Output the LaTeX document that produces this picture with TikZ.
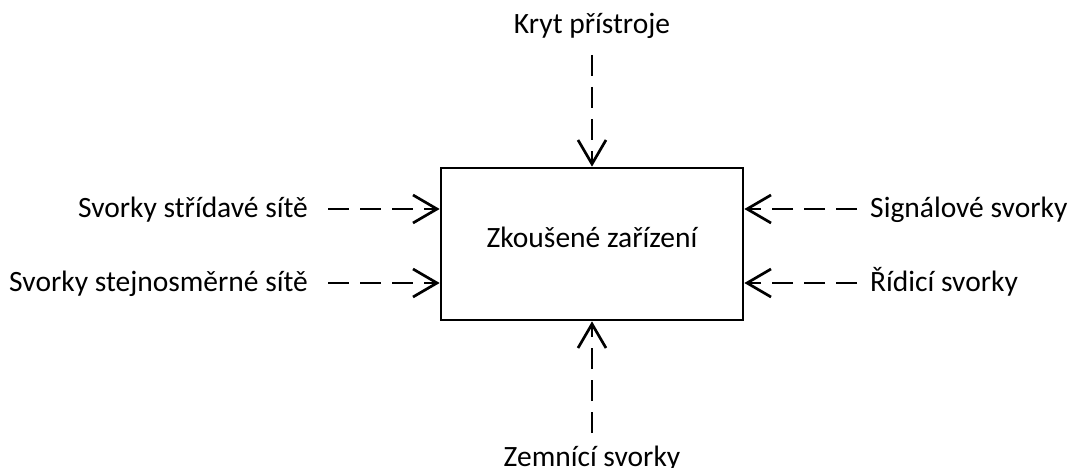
\documentclass[tikz,border=0pt]{standalone}
\usepackage{fontspec}
\setmainfont{Carlito}
\usetikzlibrary{arrows.meta}
\begin{document}
\begin{tikzpicture}[x=1pt,y=-1pt,
  lbl/.style={font=\fontsize{29.5}{35}\selectfont, inner sep=0pt},
  feed/.style={line width=2.7pt, dash pattern=on 21pt off 11pt,
    -{Straight Barb[length=24pt,width=28pt,line width=2.7pt]}},
  dut/.style={draw, line width=2.7pt, minimum width=302pt, minimum height=152pt, inner sep=0pt}]
  \useasboundingbox (0,0) rectangle (1070,468);
  % device under test
  \node[dut] (box) at (592,244) {};
  \node[lbl, anchor=base] (boxlbl) at (592,247) {Zkoušené zařízení};
  % terminal labels
  \node[lbl, anchor=base] (top) at (592,34) {Kryt přístroje};
  \node[lbl, anchor=base] (bot) at (592,466) {Zemnící svorky};
  \node[lbl, anchor=base east] (l1) at (308,217) {Svorky střídavé sítě};
  \node[lbl, anchor=base east] (l2) at (308,291) {Svorky stejnosměrné sítě};
  \node[lbl, anchor=base west] (r1) at (870,217) {Signálové svorky};
  \node[lbl, anchor=base west] (r2) at (870,291) {Řídicí svorky};
  % free ends of the connectors
  \coordinate (tstart) at (592,55);
  \coordinate (bstart) at (592,433);
  \coordinate (l1s) at (328,209);
  \coordinate (l2s) at (328,283);
  \coordinate (r1s) at (857,209);
  \coordinate (r2s) at (857,283);
  % connectors
  \draw[feed] (tstart) -- (tstart |- box.north);
  \draw[feed] (bstart) -- (bstart |- box.south);
  \draw[feed] (l1s) -- (l1s -| box.west);
  \draw[feed] (l2s) -- (l2s -| box.west);
  \draw[feed] (r1s) -- (r1s -| box.east);
  \draw[feed] (r2s) -- (r2s -| box.east);
\end{tikzpicture}
\end{document}
